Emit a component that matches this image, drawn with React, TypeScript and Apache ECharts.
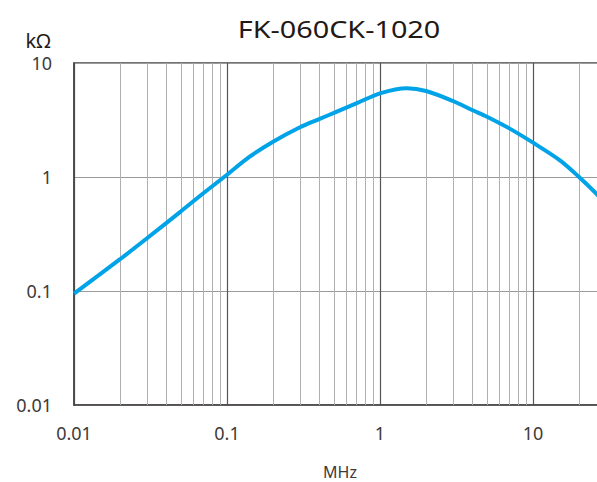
import React, { useEffect, useRef } from "react";
import * as echarts from "echarts";

const title = "FK-060CK-1020";
const yUnit = "kΩ";
const xUnit = "MHz";

const freqMHz = [0.01, 0.02, 0.03, 0.05, 0.07, 0.1, 0.14, 0.2, 0.3, 0.4, 0.5, 0.7, 1, 1.5, 2, 3, 4, 5, 7, 10, 15, 20, 26, 30];
const impedanceKOhm = [0.095, 0.19, 0.29, 0.5, 0.72, 1.047, 1.5, 2.04, 2.73, 3.22, 3.65, 4.42, 5.42, 6.0, 5.68, 4.64, 3.87, 3.38, 2.67, 2.0, 1.4, 1.0, 0.71, 0.57];

const xDecades = [0.01, 0.1, 1, 10];
const minorMultipliers = [2, 3, 4, 5, 6, 7, 8, 9];
const xTickLabels = ["0.01", "0.1", "1", "10"];
const yTickLabels = ["0.01", "0.1", "1", "10"];

const findLabel = (labels: string[], v: number) => {
  for (const l of labels) {
    if (Math.abs(Math.log10(parseFloat(l)) - Math.log10(v)) < 0.01) return l;
  }
  return "";
};

export default function App() {
  const ref = useRef<HTMLDivElement>(null);
  useEffect(() => {
    if (!ref.current) return;
    const chart = echarts.init(ref.current, undefined, { renderer: "svg" });
    const data = freqMHz.map((f, i) => [f, impedanceKOhm[i]]);
    const minorLines: any[] = [];
    xDecades.forEach((d) => minorMultipliers.forEach((m) => minorLines.push({ xAxis: +(d * m).toPrecision(3) })));
    const font = "'Noto Sans', 'Liberation Sans', sans-serif";
    chart.setOption({
      animation: false,
      grid: {
        left: 74,
        top: 63,
        width: 612,
        height: 342,
        show: true,
        borderColor: "#4a4646",
        borderWidth: 1.5,
        backgroundColor: "transparent",
      },
      xAxis: {
        type: "log",
        logBase: 10,
        min: 0.01,
        max: 100,
        axisLine: { show: true, lineStyle: { color: "#4a4646", width: 1.5 } },
        axisTick: { show: false },
        splitLine: { show: true, lineStyle: { color: "#555", width: 1.2 } },
        axisLabel: {
          color: "#3e3a39",
          fontSize: 18,
          fontFamily: font,
          margin: 19,
          formatter: (v: number) => findLabel(xTickLabels, v),
        },
      },
      yAxis: {
        type: "log",
        logBase: 10,
        min: 0.01,
        max: 10,
        axisLine: { show: true, lineStyle: { color: "#4a4646", width: 1.5 } },
        axisTick: { show: false },
        splitLine: { show: true, lineStyle: { color: "#9a9a9a", width: 1 } },
        axisLabel: {
          color: "#3e3a39",
          fontSize: 18,
          fontFamily: font,
          margin: 22,
          formatter: (v: number) => findLabel(yTickLabels, v),
        },
      },
      series: [
        {
          type: "line",
          data,
          silent: true,
          z: 1,
          showSymbol: false,
          lineStyle: { width: 0, opacity: 0 },
          markLine: {
            silent: true,
            symbol: ["none", "none"],
            label: { show: false },
            lineStyle: { color: "#b0b0b0", width: 1, type: "solid" },
            data: minorLines,
          },
        },
        {
          type: "line",
          data,
          z: 5,
          smooth: 0.3,
          showSymbol: false,
          lineStyle: { color: "#00a3e8", width: 4 },
        },
      ],
      graphic: [
        {
          type: "text",
          x: 339,
          y: 29,
          scaleX: 1.2,
          style: {
            text: title,
            fill: "#231815",
            font: `24px ${font}`,
            textAlign: "center",
            textVerticalAlign: "middle",
          },
        },
        {
          type: "text",
          x: 38,
          y: 40,
          style: {
            text: yUnit,
            fill: "#231815",
            font: `20px ${font}`,
            textAlign: "center",
            textVerticalAlign: "middle",
          },
        },
        {
          type: "text",
          x: 340,
          y: 472,
          style: {
            text: xUnit,
            fill: "#3e3a39",
            font: `16px ${font}`,
            textAlign: "center",
            textVerticalAlign: "middle",
          },
        },
      ],
    });
    return () => chart.dispose();
  }, []);
  return (
    <div style={{ position: "fixed", left: 0, top: 0, width: 597, height: 482, overflow: "hidden", background: "#fff" }}>
      <div ref={ref} style={{ width: 720, height: 482 }} />
    </div>
  );
}
